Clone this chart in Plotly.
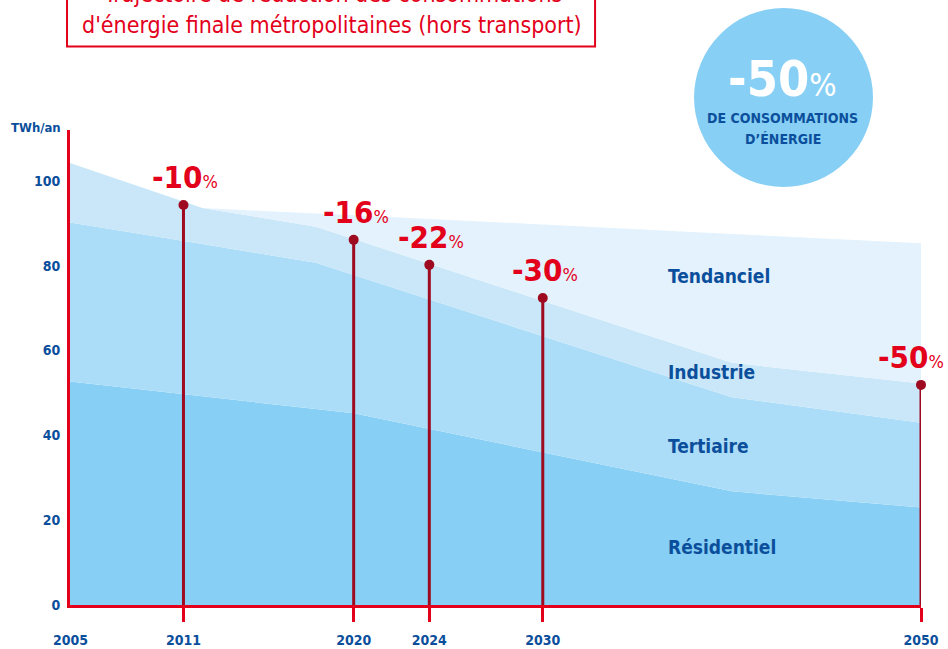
import plotly.graph_objects as go

# data (TWh/an)
years = [2005, 2012, 2018, 2020, 2040, 2050]
residentiel = [52.7, 49.2, 46.2, 45.2, 26.8, 23.0]
tertiaire = [37.5, 35.9, 34.5, 32.6, 22.2, 20.0]
industrie = [14.0, 8.5, 8.5, 8.5, 8.1, 9.2]
tendanciel = [0.0, 0.0, 3.1, 5.6, 30.4, 33.1]

target_years = [2011, 2020, 2024, 2030, 2050]
target_values = [94.3, 86.1, 80.2, 72.4, 51.9]
target_labels = ['-10', '-16', '-22', '-30', '-50']

xtick_years = [2011, 2020, 2024, 2030, 2050]
ytick_vals = [0, 20, 40, 60, 80, 100]

FONT = 'Liberation Sans Narrow, DejaVu Sans Condensed, Roboto, sans-serif'
NAVY = '#0b4f9c'
RED = '#e3001b'
STEM = '#9e0a1f'

fig = go.Figure()

layers = [('Résidentiel', residentiel, '#87cff4'),
          ('Tertiaire', tertiaire, '#abddf8'),
          ('Industrie', industrie, '#c9e7f8'),
          ('Tendanciel', tendanciel, '#e3f2fc')]
for name, vals, col in layers:
    fig.add_trace(go.Scatter(x=years, y=vals, name=name, stackgroup='one',
                             mode='none', fillcolor=col, hoverinfo='skip'))

# stems
sx, sy = [], []
for yr, v in zip(target_years, target_values):
    sx += [yr, yr, None]
    sy += [0, v, None]
fig.add_trace(go.Scatter(x=sx, y=sy, mode='lines', line=dict(color=STEM, width=3),
                         cliponaxis=False, hoverinfo='skip'))
fig.add_trace(go.Scatter(x=target_years, y=target_values, mode='markers',
                         marker=dict(color=STEM, size=10), cliponaxis=False,
                         hoverinfo='skip'))

for yr, v, lab in zip(target_years, target_values, target_labels):
    if yr == 2050:
        fig.add_annotation(x=yr, y=v, text="<b>%s</b><span style='font-size:18px'>%%</span>" % lab,
                           showarrow=False, yshift=28, xanchor='right', xshift=25,
                           font=dict(family=FONT, size=31, color=RED))
    else:
        fig.add_annotation(x=yr, y=v, text="<b>%s</b><span style='font-size:18px'>%%</span>" % lab,
                           showarrow=False, yshift=28, xshift=2,
                           font=dict(family=FONT, size=31, color=RED))

# layer names
names_pos = [('Tendanciel', 77.6), ('Industrie', 55.0), ('Tertiaire', 37.5), ('Résidentiel', 13.7)]
for name, yv in names_pos:
    fig.add_annotation(x=2036.5, y=yv, text='<b>%s</b>' % name, showarrow=False,
                       xanchor='left', font=dict(family=FONT, size=19, color=NAVY))

# first year label (no tick mark at the corner)
fig.add_annotation(x=2005, y=0, yref='paper', text='<b>2005</b>', showarrow=False,
                   yanchor='top', yshift=-25,
                   font=dict(family=FONT, size=14, color=NAVY))

fig.add_annotation(x=-0.072, y=1.006, xref='paper', yref='paper', text='<b>TWh/an</b>',
                   showarrow=False, xanchor='left', yanchor='middle',
                   font=dict(family=FONT, size=13, color=NAVY))

# title box
fig.add_shape(type='rect', xref='paper', yref='paper', x0=-0.0035, x1=0.617,
              y0=1.1758, y1=1.30, line=dict(color=RED, width=2), fillcolor='white')
fig.add_annotation(x=0.3084, y=1.287, xref='paper', yref='paper', xanchor='center',
                   yanchor='middle',
                   text='Trajectoire de réduction des consommations', showarrow=False,
                   font=dict(family=FONT, size=23, color=RED))
fig.add_annotation(x=0.3084, y=1.2211, xref='paper', yref='paper', xanchor='center',
                   yanchor='middle',
                   text="d'énergie finale métropolitaines (hors transport)", showarrow=False,
                   font=dict(family=FONT, size=23, color=RED))

# circle badge
fig.add_shape(type='circle', xref='paper', yref='paper', x0=0.7333, x1=0.9436,
              y0=0.88, y1=1.2568, line=dict(width=0), fillcolor='#87cff4')
fig.add_annotation(x=0.8378, y=1.1074, xref='paper', yref='paper', xanchor='center',
                   yanchor='middle',
                   text="<b>-50</b><span style='font-size:32px'>%</span>", showarrow=False,
                   font=dict(family=FONT, size=50, color='white'))
fig.add_annotation(x=0.8378, y=1.0253, xref='paper', yref='paper', xanchor='center',
                   yanchor='middle', text='<b>DE CONSOMMATIONS</b>', showarrow=False,
                   font=dict(family=FONT, size=14, color=NAVY))
fig.add_annotation(x=0.8378, y=0.9811, xref='paper', yref='paper', xanchor='center',
                   yanchor='middle', text='<b>D’ÉNERGIE</b>', showarrow=False,
                   font=dict(family=FONT, size=14, color=NAVY))

fig.update_layout(
    width=948, height=649,
    margin=dict(l=70, r=27, t=130, b=44),
    paper_bgcolor='white', plot_bgcolor='white',
    showlegend=False,
    xaxis=dict(range=[2005, 2050], tickvals=xtick_years, ticktext=[str(y) for y in xtick_years],
               showgrid=False, zeroline=False, showline=True, linecolor=RED, linewidth=3,
               ticks='outside', ticklen=14, tickwidth=3, tickcolor=RED,
               ticklabelstandoff=6, automargin=False,
               tickfont=dict(family=FONT, size=14, color=NAVY, weight='bold')),
    yaxis=dict(range=[0, 112], tickvals=ytick_vals, showgrid=False, zeroline=False,
               showline=True, linecolor=RED, linewidth=3, ticks='', ticklabelstandoff=4,
               automargin=False,
               tickfont=dict(family=FONT, size=14, color=NAVY, weight='bold')),
)

fig.write_html('out.html', config={'displayModeBar': False},
               post_script="document.body.style.margin='0';")
